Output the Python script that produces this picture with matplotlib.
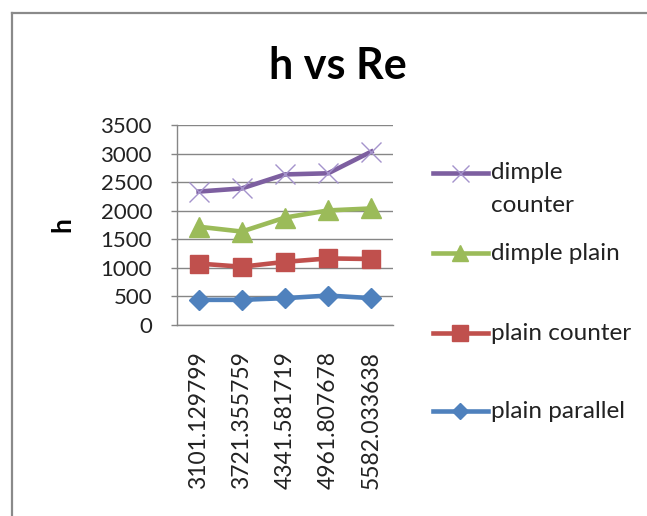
import matplotlib
matplotlib.use("Agg")
import matplotlib.pyplot as plt
from matplotlib.lines import Line2D

plt.rcParams['font.family'] = ['Lato', 'DejaVu Sans']

categories = ["3101.129799", "3721.355759", "4341.581719", "4961.807678", "5582.033638"]
plain_parallel = [440, 440, 470, 515, 470]
plain_counter = [1075, 1020, 1105, 1165, 1155]
dimple_plain = [1720, 1635, 1880, 2005, 2040]
dimple_counter = [2335, 2390, 2635, 2655, 3035]
y_ticks = [0, 500, 1000, 1500, 2000, 2500, 3000, 3500]

series = [
    ("plain parallel", plain_parallel, "#4F81BD", "D", 9.8, "#4F81BD", 1),
    ("plain counter", plain_counter, "#C0504D", "s", 13.5, "#C0504D", 1),
    ("dimple plain", dimple_plain, "#9BBB59", "^", 13.8, "#9BBB59", 1),
    ("dimple counter", dimple_counter, "#7D5FA0", "x", 14.4, "#A593CC", 1.0),
]

W, H = 647, 516
fig = plt.figure(figsize=(W / 100, H / 100), dpi=100)
ax = fig.add_axes([177 / W, 1 - 325 / H, (393 - 177) / W, (325 - 125) / H])

x = list(range(len(categories)))
for name, vals, col, mk, ms, mec, mew in series:
    ax.plot(x, vals, color=col, lw=3.3, marker=mk, markersize=ms,
            markerfacecolor=col, markeredgecolor=mec, markeredgewidth=mew,
            zorder=3, clip_on=False)

ax.set_xlim(-0.5, len(categories) - 0.5)
ax.set_ylim(0, 3500)
ax.set_yticks(y_ticks)
ax.set_yticklabels([str(v) for v in y_ticks])
ax.set_xticks(x)
ax.set_xticklabels(categories, rotation=90)
ax.grid(axis='y', color='#868686', lw=1)
ax.set_axisbelow(True)
for s in ['top', 'right']:
    ax.spines[s].set_visible(False)
for s in ['left', 'bottom']:
    ax.spines[s].set_color('#868686')
    ax.spines[s].set_linewidth(1)
ax.tick_params(axis='y', length=4, width=1, color='#868686', pad=14,
               labelsize=16, labelcolor='#222222')
ax.tick_params(axis='x', length=0, pad=19, labelsize=16.5, labelcolor='#222222')

# title and axis label
fig.text(338 / W, 1 - 79 / H, "h vs Re", ha='center', va='baseline',
         fontsize=31, fontweight='bold', color='black')
fig.text(62 / W, 1 - 225 / H, "h", ha='center', va='center', rotation=90,
         fontsize=19, fontweight='bold', color='black')

# legend (manual)
leg_rows = [
    (["dimple", "counter"], 173, series[3]),
    (["dimple plain"], 253, series[2]),
    (["plain counter"], 333, series[1]),
    (["plain parallel"], 411, series[0]),
]
for lines, yc, (name, vals, col, mk, ms, mec, mew) in leg_rows:
    yf = 1 - yc / H
    fig.add_artist(Line2D([433 / W, 488 / W], [yf, yf], color=col, lw=3.3,
                          transform=fig.transFigure))
    fig.add_artist(Line2D([460.5 / W], [yf], marker=mk, markersize=ms * 0.85,
                          markerfacecolor=col, markeredgecolor=mec,
                          markeredgewidth=mew, color=col, linestyle='none',
                          transform=fig.transFigure))
    for i, txt in enumerate(lines):
        fig.text(491 / W, 1 - (yc + 32 * i) / H, txt, ha='left', va='center',
                 fontsize=17.5, color='#222222', transform=fig.transFigure)

# chart frame
fig.add_artist(Line2D([12 / W, 12 / W], [0, 1 - 13 / H], color='#8a8a8a', lw=1.6,
                      transform=fig.transFigure))
fig.add_artist(Line2D([12 / W, 1], [1 - 13 / H, 1 - 13 / H], color='#8a8a8a', lw=1.6,
                      transform=fig.transFigure))

fig.savefig("out.png", dpi=100)
